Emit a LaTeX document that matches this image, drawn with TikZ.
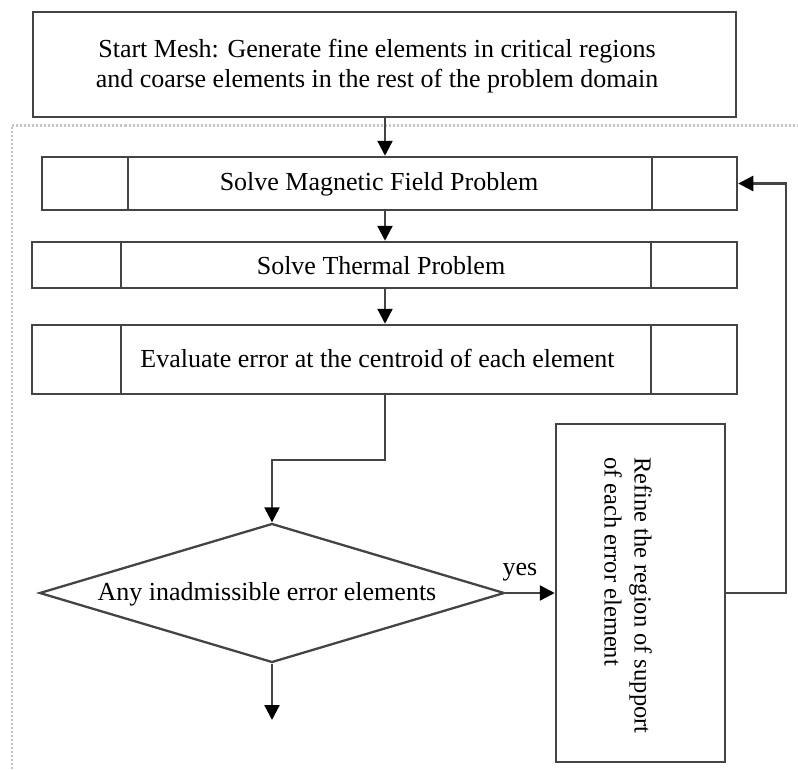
\documentclass[tikz,border=0pt]{standalone}
\usepackage{fontspec}
\setmainfont{Liberation Serif}
\usetikzlibrary{arrows.meta,shapes.geometric,calc}
\definecolor{lc}{HTML}{444444}
\begin{document}
\begin{tikzpicture}[x=1pt,y=-1pt,
  box/.style={draw=lc, line width=2.5pt, rectangle, inner sep=0pt, fill=white},
  txt/.style={font=\fontsize{26}{30}\selectfont, inner sep=0pt, align=center},
  txtr/.style={font=\fontsize{24.5}{30}\selectfont, inner sep=0pt, align=left},
  ln/.style={draw=lc, line width=2.5pt},
  arr/.style={draw=lc, line width=2.3pt, -{Triangle[length=15pt,width=15pt,color=black]}},
  framel/.style={draw=gray!45, line width=2.2pt, dash pattern=on 2pt off 2pt}]
\useasboundingbox (0,0) rectangle (798,769);
% dotted frame
\draw[framel] (12,769) -- (12,125.5) -- (798,125.5);

% top box
\node[box, minimum width=703pt, minimum height=105pt] (top) at (384.5,64.5) {};
\node[txt] (topt) at (377,66) {Start Mesh: Generate fine elements in critical regions\\and coarse elements in the rest of the problem domain};

% process boxes
\node[box, minimum width=695pt, minimum height=53pt] (b1) at (389.5,183.5) {};
\node[box, minimum width=705pt, minimum height=46pt] (b2) at (384.5,265) {};
\node[box, minimum width=705pt, minimum height=69pt] (b3) at (384.5,359.5) {};
\coordinate (v1l) at (128,0); \coordinate (v1r) at (652,0);
\coordinate (v2l) at (121,0); \coordinate (v2r) at (651,0);
\draw[ln] (b1.north -| v1l) -- (b1.south -| v1l);
\draw[ln] (b1.north -| v1r) -- (b1.south -| v1r);
\draw[ln] (b2.north -| v2l) -- (b2.south -| v2l);
\draw[ln] (b2.north -| v2r) -- (b2.south -| v2r);
\draw[ln] (b3.north -| v2l) -- (b3.south -| v2l);
\draw[ln] (b3.north -| v2r) -- (b3.south -| v2r);
\node[txt] (b1t) at (379,184) {Solve Magnetic Field Problem};
\node[txt] (b2t) at (381,265.5) {Solve Thermal Problem};
\node[txt] (b3t) at (377.5,358.5) {Evaluate error at the centroid of each element};

% decision
\node[diamond, draw=lc, line width=2.3pt, inner sep=0pt, minimum width=465pt, minimum height=139pt] (dia) at (272,593) {};
\node[txt] (diat) at (267,594) {Any inadmissible error elements};

% refine box
\node[box, minimum width=169pt, minimum height=338pt] (ref) at (640.5,593) {};
\node[txtr, rotate=-90, anchor=west] (reft) at (628,457) {Refine the region of support\\of each error element};

% connectors
\coordinate (ax) at (385,0);
\draw[arr] (top.south -| ax) -- (b1.north -| ax);
\draw[arr] (b1.south -| ax) -- (b2.north -| ax);
\draw[arr] (b2.south -| ax) -- (b3.north -| ax);
\coordinate (bend) at (385,460);
\draw[arr] (b3.south -| ax) -- (bend) -| (dia.north);
\draw[arr] (dia.east) -- (ref.west);
\node[txt] (yes) at (520,572) {yes};
\coordinate (rr) at (786,593);
\draw[arr] (ref.east) -- (rr) |- (b1.east);
\coordinate (endc) at (272,720);
\draw[arr] (dia.south) -- (endc);
\end{tikzpicture}
\end{document}
